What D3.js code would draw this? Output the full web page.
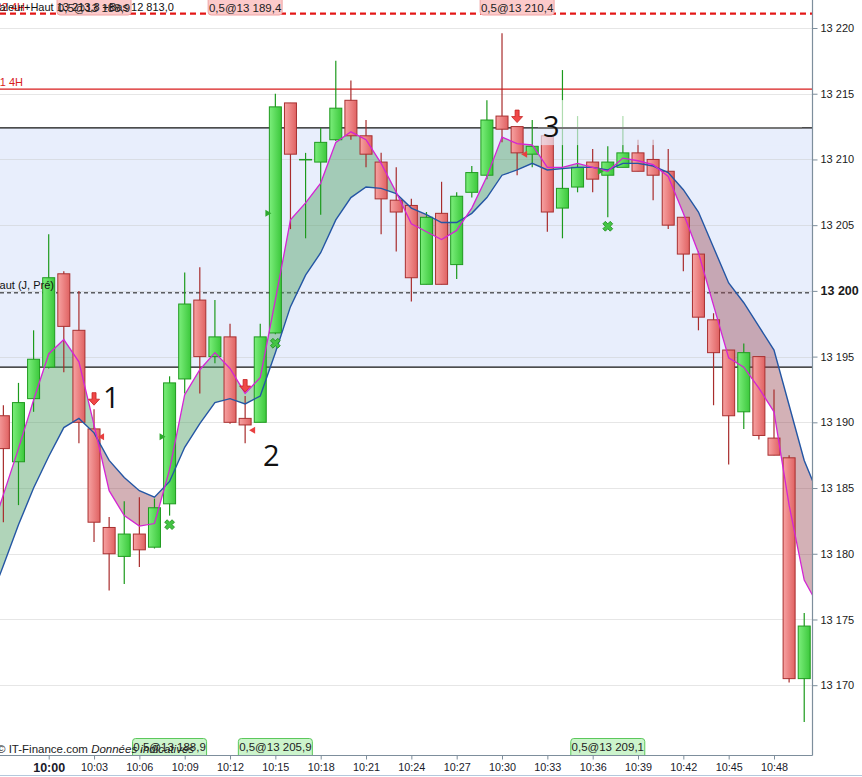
<!DOCTYPE html>
<html>
<head>
<meta charset="utf-8">
<script src="https://cdn.jsdelivr.net/npm/d3@7"></script>
<style>
  html, body { margin: 0; padding: 0; background: #fff; overflow: hidden; }
  svg { display: block; font-family: "Liberation Sans", Arial, sans-serif; }
</style>
</head>
<body>
<div id="chart"></div>
<script>
// One-minute candles
const candleTimes = ["09:57","09:58","09:59","10:00","10:01","10:02","10:03","10:04","10:05","10:06",
  "10:07","10:08","10:09","10:10","10:11","10:12","10:13","10:14","10:15","10:16","10:17","10:18",
  "10:19","10:20","10:21","10:22","10:23","10:24","10:25","10:26","10:27","10:28","10:29","10:30",
  "10:31","10:32","10:33","10:34","10:35","10:36","10:37","10:38","10:39","10:40","10:41","10:42",
  "10:43","10:44","10:45","10:46","10:47","10:48","10:49","10:50"];
const openPx = [13190.5,13187.0,13191.8,13194.2,13201.3,13197.0,13189.5,13182.0,13179.8,13181.5,
  13180.5,13183.8,13193.3,13199.3,13195.0,13196.5,13190.3,13190.0,13196.8,13214.3,13210.0,13209.8,
  13211.5,13214.5,13211.8,13209.8,13206.9,13206.5,13200.5,13205.9,13202.0,13207.5,13208.8,13213.3,
  13212.5,13210.4,13211.8,13206.3,13207.9,13209.8,13208.8,13209.4,13210.5,13210.0,13209.1,13205.6,
  13202.8,13197.8,13195.5,13190.8,13195.0,13188.8,13187.3,13170.5];
const highPx = [13191.3,13193.0,13197.0,13204.3,13201.5,13200.0,13191.0,13182.8,13184.0,13184.3,
  13184.2,13193.5,13201.4,13201.8,13199.3,13197.5,13192.0,13197.5,13215.0,13214.3,13210.5,13212.4,
  13217.5,13216.0,13213.0,13210.5,13209.4,13207.0,13206.0,13208.3,13207.5,13209.5,13214.5,13219.6,
  13212.5,13213.0,13211.8,13216.8,13213.3,13210.8,13211.0,13213.3,13211.5,13211.5,13210.8,13205.6,
  13203.0,13198.3,13195.5,13196.0,13195.0,13192.5,13187.5,13175.5];
const lowPx = [13182.4,13183.7,13190.8,13194.1,13193.8,13188.4,13180.9,13177.2,13177.7,13179.0,
  13180.4,13182.9,13192.2,13192.2,13194.5,13189.9,13188.4,13190.0,13196.7,13204.7,13204.0,13205.8,
  13211.4,13211.5,13209.4,13204.3,13203.0,13199.2,13200.5,13200.5,13200.9,13207.1,13208.5,13211.3,
  13208.8,13209.4,13204.5,13204.0,13207.5,13207.5,13205.6,13209.4,13209.1,13206.9,13204.7,13201.5,
  13197.0,13191.3,13186.8,13189.5,13188.7,13187.5,13170.2,13167.2];
const closePx = [13188.0,13191.5,13194.8,13201.0,13197.3,13190.0,13182.4,13180.0,13181.5,13180.3,
  13183.5,13193.0,13199.0,13195.0,13196.5,13190.0,13189.8,13196.5,13214.0,13210.4,13210.0,13211.3,
  13213.9,13211.8,13210.4,13207.0,13206.0,13201.0,13205.6,13200.5,13207.2,13209.0,13213.0,13212.3,
  13210.5,13211.0,13206.0,13207.8,13209.4,13208.5,13209.8,13210.5,13209.1,13208.8,13205.0,13202.8,
  13198.0,13195.3,13190.5,13195.3,13189.0,13187.5,13170.5,13174.5];

// Moving averages (fast = magenta, slow = blue)
const maTimes = ["09:56", ...candleTimes, "10:51"];
const maFast = [13181.0,13184.5,13188.0,13191.7,13195.2,13196.3,13194.6,13189.8,13184.8,13182.9,
  13182.1,13182.3,13186.4,13192.1,13194.0,13195.3,13194.1,13192.2,13193.4,13199.3,13205.4,13206.7,
  13208.2,13211.3,13212.1,13211.5,13209.7,13207.5,13205.1,13204.5,13203.9,13204.6,13206.3,13208.7,
  13211.7,13211.2,13211.1,13209.4,13209.4,13209.7,13209.4,13209.1,13210.1,13209.9,13209.6,13208.7,
  13205.9,13202.9,13198.9,13194.9,13194.2,13192.6,13190.8,13183.7,13178.0,13175.9];
const maSlow = [13176.1,13179.1,13182.2,13185.0,13187.4,13189.6,13190.3,13189.2,13187.1,13185.8,
  13184.8,13184.3,13185.5,13188.1,13189.9,13191.5,13191.8,13191.4,13192.0,13195.3,13198.8,13201.2,
  13202.9,13205.4,13207.1,13207.9,13207.8,13207.4,13206.3,13205.8,13205.2,13205.2,13205.9,13207.1,
  13208.8,13209.2,13209.7,13209.2,13209.3,13209.4,13209.4,13209.2,13209.7,13209.7,13209.5,13209.0,
  13207.7,13206.0,13203.3,13200.6,13199.1,13197.3,13195.5,13191.3,13187.1,13184.3];

// Trades
const sellTimes = ["10:03", "10:13", "10:31"];
const sellPrices = [13188.9, 13189.4, 13210.4];
const buyTimes = ["10:08", "10:15", "10:37"];
const buyPrices = [13188.9, 13205.9, 13209.1];

// Annotations
const noteTexts = ["1", "2", "3"];
const noteTimes = ["10:03:36", "10:14:11", "10:32:43"];
const notePrices = [13191.1, 13186.7, 13211.7];

// Levels
const r2Level = 13221.1;
const r1Level = 13215.35;
const zoneTop = 13212.4;
const prevHigh = 13199.85;
const zoneBottom = 13194.2;

const yTicks = [13170, 13175, 13180, 13185, 13190, 13195, 13200, 13205, 13210, 13215, 13220];
const xTicks = ["10:00","10:03","10:06","10:09","10:12","10:15","10:18","10:21","10:24","10:27",
  "10:30","10:33","10:36","10:39","10:42","10:45","10:48"];

const W = 862, H = 777, plotW = 812, plotH = 755;
const parse = d3.timeParse("%H:%M");
const parseS = d3.timeParse("%H:%M:%S");

const x = d3.scaleTime().domain([parse("10:00"), parse("10:48")]).range([48.7, 774]);
const y = d3.scaleLinear().domain([13170, 13220]).range([685.2, 28]);

const fmtPrice = v => d3.format(",.1f")(v).replace(",", " ").replace(".", ",");
const fmtTick = v => d3.format(",")(v).replace(",", " ");

const svg = d3.select("#chart").append("svg")
  .attr("width", W).attr("height", H)
  .attr("viewBox", `0 0 ${W} ${H}`);

const defs = svg.append("defs");
defs.append("clipPath").attr("id", "plotClip")
  .append("rect").attr("width", plotW).attr("height", plotH);

function gradient(id, c0, c1) {
  const g = defs.append("linearGradient").attr("id", id)
    .attr("x1", "0%").attr("x2", "100%").attr("y1", "0%").attr("y2", "0%");
  g.append("stop").attr("offset", "0%").attr("stop-color", c0);
  g.append("stop").attr("offset", "100%").attr("stop-color", c1);
}
gradient("gUp", "#7bee7b", "#3cc83c");
gradient("gDown", "#f7a2a2", "#e06262");

const candles = candleTimes.map((t, i) => ({
  t: parse(t), o: openPx[i], h: highPx[i], l: lowPx[i], c: closePx[i]
}));
const ma = maTimes.map((t, i) => ({ t: parse(t), fast: maFast[i], slow: maSlow[i] }));

const plot = svg.append("g").attr("clip-path", "url(#plotClip)");

const bandColor = "#e8eefc";

// Zone band between the two black levels
plot.append("rect")
  .attr("x", 0).attr("width", plotW)
  .attr("y", y(zoneTop)).attr("height", y(zoneBottom) - y(zoneTop))
  .attr("fill", bandColor);

// Horizontal grid
plot.selectAll("line.grid").data(yTicks).join("line")
  .attr("class", "grid")
  .attr("x1", 0).attr("x2", plotW)
  .attr("y1", d => Math.round(y(d)) + 0.5).attr("y2", d => Math.round(y(d)) + 0.5)
  .attr("stroke", "#c8c8c8").attr("stroke-opacity", 0.45);

// Levels
const hline = (p, color, width, dash) => plot.append("line")
  .attr("x1", 0).attr("x2", plotW)
  .attr("y1", y(p)).attr("y2", y(p))
  .attr("stroke", color).attr("stroke-width", width)
  .attr("stroke-dasharray", dash || null);
hline(r2Level, "#e41818", 2.2, "6,4");
hline(r1Level, "#d81c1c", 1.2);
hline(zoneTop, "#111", 1.2);
hline(prevHigh, "#111", 1, "4,3");
hline(zoneBottom, "#111", 1.2);

// Cloud between the averages: green where fast is above slow, red below
const aboveSlow = d3.area().x(d => x(d.t)).y0(-50).y1(d => y(d.slow));
const belowSlow = d3.area().x(d => x(d.t)).y0(plotH + 50).y1(d => y(d.slow));
defs.append("clipPath").attr("id", "clipAbove").append("path").attr("d", aboveSlow(ma));
defs.append("clipPath").attr("id", "clipBelow").append("path").attr("d", belowSlow(ma));

const cloud = d3.area().x(d => x(d.t)).y0(d => y(d.slow)).y1(d => y(d.fast));
plot.append("path").attr("d", cloud(ma))
  .attr("clip-path", "url(#clipAbove)")
  .attr("fill", "rgb(80,160,100)").attr("fill-opacity", 0.45);
plot.append("path").attr("d", cloud(ma))
  .attr("clip-path", "url(#clipBelow)")
  .attr("fill", "rgb(150,70,80)").attr("fill-opacity", 0.42);

// Candles
const bw = 12;
const cg = plot.selectAll("g.candle").data(candles).join("g").attr("class", "candle");
cg.append("line")
  .attr("x1", d => x(d.t)).attr("x2", d => x(d.t))
  .attr("y1", d => y(d.h)).attr("y2", d => y(d.l))
  .attr("stroke", d => d.c >= d.o ? "#1c9a1c" : "#a82c2c")
  .attr("stroke-width", 1.2);
cg.append("rect")
  .attr("x", d => x(d.t) - bw / 2).attr("width", bw)
  .attr("y", d => y(Math.max(d.o, d.c)))
  .attr("height", d => Math.max(0.5, Math.abs(y(d.o) - y(d.c))))
  .attr("fill", d => d.c >= d.o ? "url(#gUp)" : "url(#gDown)")
  .attr("stroke", d => d.c >= d.o ? "#1f9a1f" : "#a83030")
  .attr("stroke-width", 1);

// Averages on top of the candles
const line = key => d3.line().x(d => x(d.t)).y(d => y(d[key]));
plot.append("path").attr("d", line("slow")(ma))
  .attr("fill", "none").attr("stroke", "#2456a4").attr("stroke-width", 1.4);
plot.append("path").attr("d", line("fast")(ma))
  .attr("fill", "none").attr("stroke", "#d424d4").attr("stroke-width", 1.3);

// Trade markers
const candleAt = t => candles.find(c => +c.t === +parse(t));
sellTimes.forEach((t, i) => {
  const c = candleAt(t);
  const cx = x(c.t), cy = y(c.h) - 10;
  plot.append("path")
    .attr("transform", `translate(${cx},${cy})`)
    .attr("d", "M-2,-6.5L2,-6.5L2,0L5.5,0L0,6L-5.5,0L-2,0Z")
    .attr("fill", "#f04848").attr("stroke", "#c42020").attr("stroke-width", 0.8);
  const px = cx + 7, py = y(sellPrices[i]);
  plot.append("path")
    .attr("d", `M${px + 3},${py - 3.5}L${px + 3},${py + 3.5}L${px - 3},${py}Z`)
    .attr("fill", "#e84040");
});
buyTimes.forEach((t, i) => {
  const c = candleAt(t);
  const cx = x(c.t);
  plot.append("path")
    .attr("transform", `translate(${cx},${y(c.l) + 9}) rotate(45)`)
    .attr("d", d3.symbol(d3.symbolCross, 60)())
    .attr("fill", "#44c444").attr("stroke", "#1f8f1f").attr("stroke-width", 0.8);
  const px = cx - 7, py = y(buyPrices[i]);
  plot.append("path")
    .attr("d", `M${px - 3},${py - 3.5}L${px - 3},${py + 3.5}L${px + 3},${py}Z`)
    .attr("fill", "#2ea82e");
});

// Numbered notes; the third sits on a translucent label strip that
// repaints the background (white above the zone line, band colour below)
noteTexts.forEach((s, i) => {
  const nx = x(parseS(noteTimes[i])), ny = y(notePrices[i]);
  if (i === 2) {
    const x0 = nx - 5, x1 = 802, top = ny - 37, bottom = ny + 8, mid = y(zoneTop);
    plot.append("rect")
      .attr("x", x0).attr("y", top).attr("width", x1 - x0).attr("height", mid - top)
      .attr("fill", "#fff").attr("fill-opacity", 0.65);
    plot.append("rect")
      .attr("x", x0).attr("y", mid).attr("width", x1 - x0).attr("height", bottom - mid)
      .attr("fill", bandColor).attr("fill-opacity", 0.65);
    plot.append("line")
      .attr("x1", x0).attr("x2", x1).attr("y1", mid).attr("y2", mid)
      .attr("stroke", "#777").attr("stroke-width", 2);
  }
  plot.append("text")
    .attr("x", nx).attr("y", ny)
    .attr("font-family", "'Open Sans', 'DejaVu Sans', sans-serif")
    .attr("font-size", 29).attr("fill", "#111")
    .text(s);
});

// Level captions (cut at the left edge)
plot.append("text").attr("x", 23).attr("y", y(r1Level) - 3)
  .attr("text-anchor", "end").attr("font-size", 11).attr("fill", "#d81c1c")
  .text("R1 4H");
plot.append("text").attr("x", 54).attr("y", y(prevHigh) - 4)
  .attr("text-anchor", "end").attr("font-size", 11).attr("fill", "#111")
  .text("Haut (J, Pré)");

// Order tags: red along the top for sells, green along the bottom for buys
const tagW = 74;
sellTimes.forEach((t, i) => {
  const cx = x(parse(t));
  svg.append("rect")
    .attr("x", cx - tagW / 2).attr("y", -4).attr("width", tagW).attr("height", 19).attr("rx", 3)
    .attr("fill", "#fccaca").attr("stroke", "#f0a4a4");
});
buyTimes.forEach((t, i) => {
  const cx = x(parse(t));
  svg.append("rect")
    .attr("x", cx - tagW / 2).attr("y", 738.5).attr("width", tagW).attr("height", 20).attr("rx", 3)
    .attr("fill", "#ccf4cc").attr("stroke", "#5cc85c");
});

// Header text at top-left
svg.append("text").attr("x", 25).attr("y", 11).attr("text-anchor", "end")
  .attr("font-size", 11).attr("fill", "#e41818").text("R2 4H");
svg.append("text").attr("x", 24).attr("y", 11).attr("text-anchor", "end")
  .attr("font-size", 11).attr("fill", "#111").text("Valeur");
svg.append("text").attr("x", 24).attr("y", 11)
  .attr("font-size", 11).attr("fill", "#111").text("+Haut 13 213,8 +Bas 12 813,0");

sellTimes.forEach((t, i) => {
  svg.append("text").attr("x", x(parse(t))).attr("y", 11.5)
    .attr("text-anchor", "middle").attr("font-size", 11.5).attr("fill", "#222")
    .text("0,5@" + fmtPrice(sellPrices[i]));
});

// Copyright
const copy = svg.append("text").attr("x", -3).attr("y", 753)
  .attr("font-size", 11.5).attr("fill", "#222");
copy.append("tspan").text("© IT-Finance.com  ");
copy.append("tspan").attr("font-style", "italic").text("Données indicatives");

buyTimes.forEach((t, i) => {
  svg.append("text").attr("x", x(parse(t))).attr("y", 751)
    .attr("text-anchor", "middle").attr("font-size", 11.5).attr("fill", "#222")
    .text("0,5@" + fmtPrice(buyPrices[i]));
});

// Axes
svg.append("rect").attr("x", 0).attr("y", plotH + 0.5).attr("width", W).attr("height", H - plotH)
  .attr("fill", "#fff");
svg.append("rect").attr("x", plotW + 0.5).attr("y", 0).attr("width", W - plotW).attr("height", plotH)
  .attr("fill", "#fff");

const yAxis = svg.append("g")
  .attr("transform", `translate(${plotW + 0.5},0)`)
  .call(d3.axisRight(y).tickValues(yTicks).tickFormat(fmtTick).tickSize(5).tickSizeOuter(0).tickPadding(3));
yAxis.select(".domain").remove();
yAxis.selectAll("line").attr("stroke", "#7d8e9c");
yAxis.selectAll("text")
  .attr("font-family", "'Liberation Sans', Arial, sans-serif")
  .attr("fill", "#1a1a1a")
  .attr("font-weight", d => d === 13200 ? "bold" : null)
  .attr("font-size", d => d === 13200 ? 12.5 : 11);

const xAxis = svg.append("g")
  .attr("transform", `translate(0,${plotH + 0.5})`)
  .call(d3.axisBottom(x).tickValues(xTicks.map(parse)).tickFormat(d3.timeFormat("%H:%M"))
    .tickSize(4).tickSizeOuter(0).tickPadding(4));
xAxis.select(".domain").remove();
xAxis.selectAll("line").attr("stroke", "#7d8e9c");
xAxis.selectAll("text")
  .attr("font-family", "'Liberation Sans', Arial, sans-serif")
  .attr("fill", "#1a1a2a")
  .attr("font-weight", (d, i) => i === 0 ? "bold" : null)
  .attr("font-size", (d, i) => i === 0 ? 12.5 : 10.8);

svg.append("line").attr("x1", plotW + 0.5).attr("x2", plotW + 0.5).attr("y1", 0).attr("y2", plotH + 0.5)
  .attr("stroke", "#7d8e9c").attr("stroke-width", 1.2);
svg.append("line").attr("x1", 0).attr("x2", plotW + 0.5).attr("y1", plotH + 0.5).attr("y2", plotH + 0.5)
  .attr("stroke", "#7d8e9c").attr("stroke-width", 1.2);
svg.append("line").attr("x1", 0).attr("x2", W).attr("y1", H - 1.5).attr("y2", H - 1.5)
  .attr("stroke", "#b4c8dc");
</script>
</body>
</html>
